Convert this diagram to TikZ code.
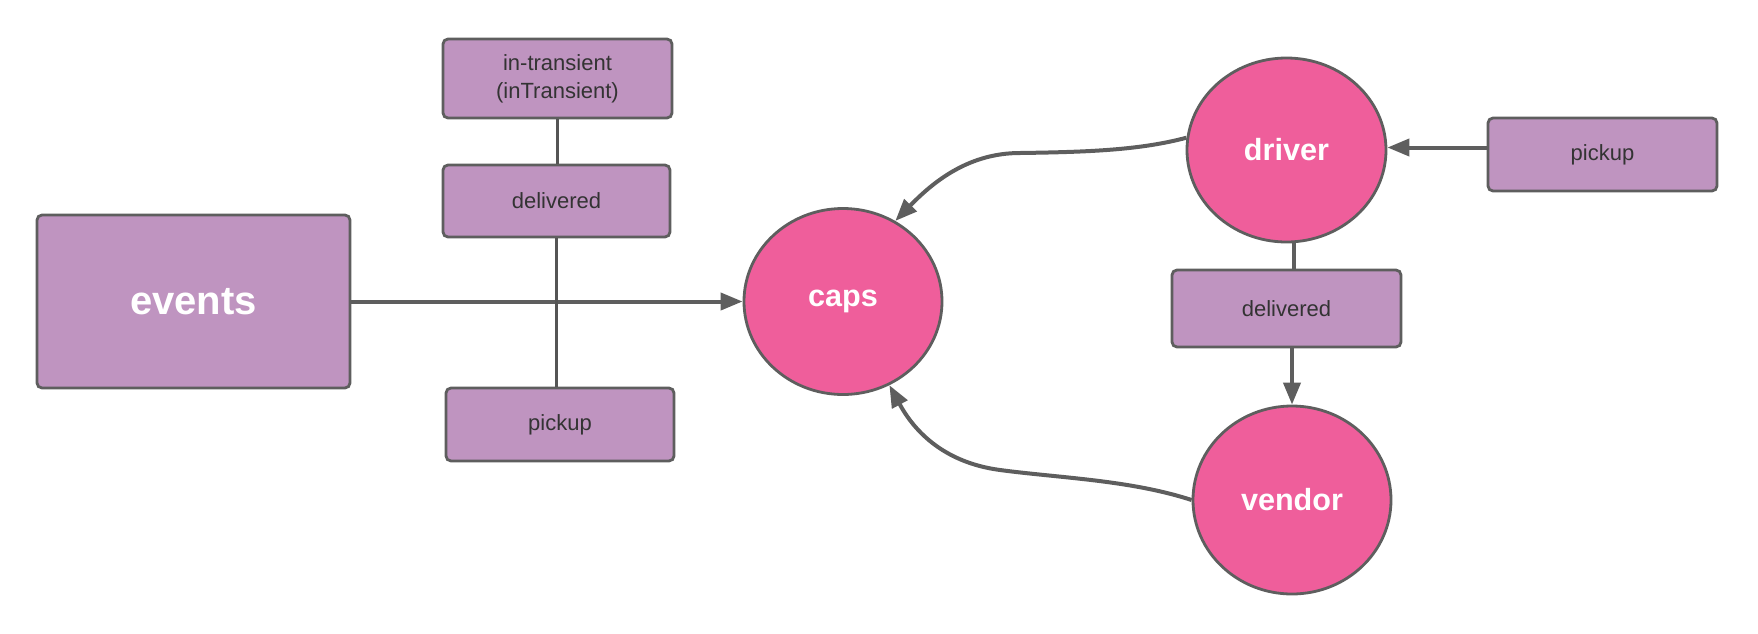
\documentclass[tikz,border=0pt]{standalone}
\usepackage{fontspec}
\setmainfont{Liberation Sans}
\usetikzlibrary{shapes.geometric,arrows.meta,calc}
\definecolor{boxfill}{RGB}{191,148,192}
\definecolor{circfill}{RGB}{239,94,155}
\definecolor{edge}{RGB}{94,94,94}
\definecolor{txt}{RGB}{51,51,51}
\tikzset{
  box/.style={draw=edge, fill=boxfill, line width=1.4pt, rounded corners=2.5pt, inner sep=0pt,
    text=txt, font=\fontsize{11}{14}\selectfont, align=center},
  bigbox/.style={box, text=white, font=\fontsize{20}{24}\selectfont\bfseries},
  circ/.style={ellipse, draw=edge, fill=circfill, line width=1.4pt, inner sep=0pt,
    text=white, font=\fontsize{15.3}{18}\selectfont\bfseries},
  conn/.style={draw=edge, line width=2pt},
  arr/.style={conn, -{Triangle[length=11pt,width=8.5pt]}},
  thin/.style={draw=edge!90!black, line width=1.1pt},
}
\begin{document}
\begin{tikzpicture}[x=0.5pt,y=-0.5pt]
\useasboundingbox (0,0) rectangle (1758,633);
% nodes
\node[bigbox, minimum width=156.5pt, minimum height=86.5pt] (events) at (193.5,301.5) {events};
\node[box, minimum width=114.5pt, minimum height=39.5pt] (intransient) at (557.5,78.5) {in-transient\\(inTransient)};
\node[box, minimum width=113.5pt, minimum height=36pt] (deliveredL) at (556.5,201) {delivered};
\node[box, minimum width=114pt, minimum height=36.5pt] (pickupL) at (560,424.5) {pickup};
\node[circ, minimum width=99pt, minimum height=93pt] (caps) at (843,301.5) {caps};
\node[circ, minimum width=99.5pt, minimum height=92pt] (driver) at (1286.5,150) {driver};
\node[circ, minimum width=99pt, minimum height=94pt] (vendor) at (1292,500) {vendor};
\node[box, minimum width=114.5pt, minimum height=38.5pt] (deliveredR) at (1286.5,308.5) {delivered};
\node[box, minimum width=114.5pt, minimum height=36.5pt] (pickupR) at (1602.5,154.5) {pickup};
% connectors
\draw[arr] (events.east) -- (caps.west);
\draw[thin] (intransient.south) -- (intransient.south |- deliveredL.north);
\draw[thin] (deliveredL.south) -- (deliveredL.south |- pickupL.north);
\coordinate (pr) at ([yshift=3.5pt]pickupR.west);
\draw[arr] (pr) -- (pr -| driver.east);
\draw[conn] ([xshift=3.5pt]driver.south) -- ([xshift=3.5pt]driver.south |- deliveredR.north);
\draw[arr] (vendor.north |- deliveredR.south) -- (vendor.north);
\draw[arr] (driver.173) .. controls (1140,150) and (1090,152) .. (1020,153)
  .. controls (970,153) and (935,180) .. (caps.57);
\draw[arr] (vendor.west) .. controls (1130,480) and (1060,478) .. (1000,470)
  .. controls (940,462) and (912,427) .. (caps.299);
\end{tikzpicture}
\end{document}
